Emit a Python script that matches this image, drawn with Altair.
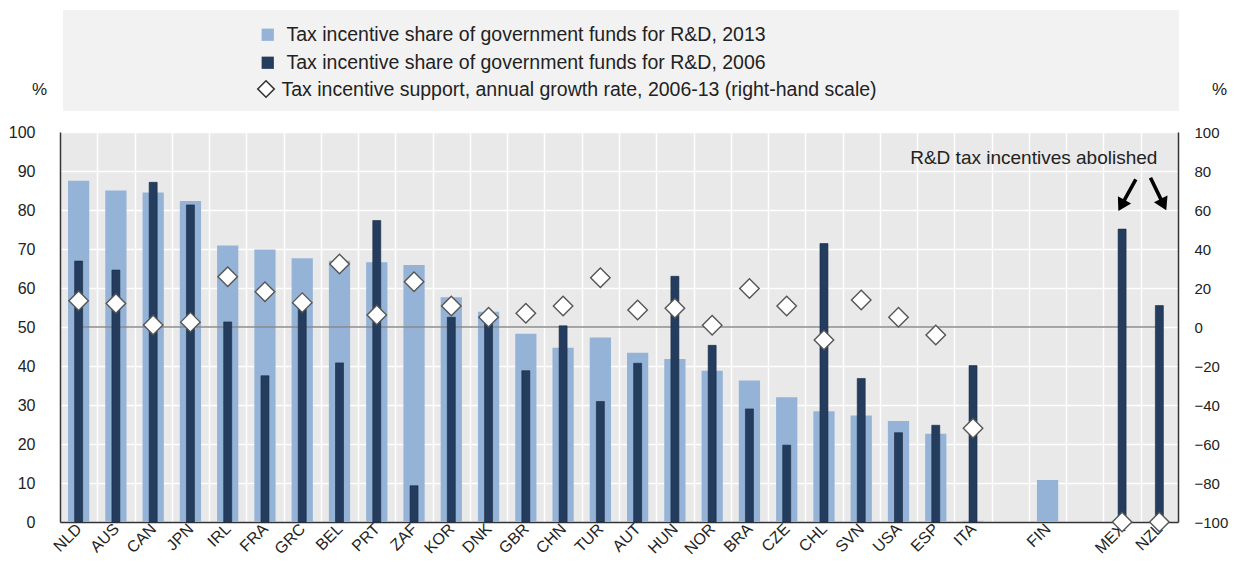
import altair as alt
import pandas as pd

countries = ["NLD", "AUS", "CAN", "JPN", "IRL", "FRA", "GRC", "BEL", "PRT", "ZAF",
             "KOR", "DNK", "GBR", "CHN", "TUR", "AUT", "HUN", "NOR", "BRA", "CZE",
             "CHL", "SVN", "USA", "ESP", "ITA", "FIN", "MEX", "NZL"]
share_2013 = [87.5, 85.0, 84.5, 82.3, 70.9, 69.9, 67.6, 67.0, 66.6, 65.9,
              57.6, 53.9, 48.3, 44.7, 47.3, 43.4, 41.8, 38.8, 36.3, 32.0,
              28.4, 27.3, 25.9, 22.6, 0.3, 10.8, None, None]
share_2006 = [66.9, 64.6, 87.1, 81.3, 51.3, 37.5, 55.0, 40.8, 77.3, 9.3,
              52.5, 53.0, 38.8, 50.3, 30.9, 40.7, 63.0, 45.3, 29.0, 19.7,
              71.4, 36.8, 22.9, 24.8, 40.1, None, 75.1, 55.5]
growth = [13.5, 12.0, 1.0, 2.5, 25.8, 18.1, 12.5, 32.3, 6.2, 23.2,
          10.8, 5.0, 7.0, 10.8, 25.3, 8.7, 9.6, 0.9, 19.8, 10.8,
          -6.7, 13.8, 5.0, -4.1, -51.9, None, -100.0, -100.0]
x_domain = countries[:25] + [" "] + ["FIN"] + ["  "] + ["MEX", "NZL"]
left_ticks = list(range(0, 101, 10))
right_ticks = list(range(-100, 101, 20))

LAB13 = "Tax incentive share of government funds for R&D, 2013"
LAB06 = "Tax incentive share of government funds for R&D, 2006"
LABG = "Tax incentive support, annual growth rate, 2006-13 (right-hand scale)"
NOTE = "R&D tax incentives abolished"

LIGHT = "#95b3d7"
DARK = "#243d5f"
FONT = "Liberation Sans"
TXT = "#222222"

df = pd.DataFrame({"country": countries, "s2013": share_2013,
                   "s2006": share_2006, "growth": growth})
df["ser13"] = LAB13
df["ser06"] = LAB06
df["serg"] = LABG
zero_df = pd.DataFrame({"country": ["NLD", "NZL"], "v": [0, 0]})
note_df = pd.DataFrame({"country": ["NZL"], "v": [93.3], "t": [NOTE]})
arrow_mex = pd.DataFrame({"country": ["MEX"], "v": [83.8]})
arrow_nzl = pd.DataFrame({"country": ["NZL"], "v": [84.1]})
one_df = pd.DataFrame({"a": [1]})

xscale = alt.Scale(domain=x_domain, paddingInner=0, paddingOuter=0)
x_enc = alt.X("country:N", scale=xscale, title=None,
              axis=alt.Axis(labelAngle=315, labelFontSize=16, labelFont=FONT,
                            labelColor=TXT, ticks=False, grid=True,
                            gridColor="white", gridWidth=1.5, tickBand="extent",
                            labelBaseline="middle", labelAlign="right",
                            labelPadding=4, domainColor="#333333", domainWidth=1.5))
left_scale = alt.Scale(domain=[0, 100], nice=False, zero=False)
right_scale = alt.Scale(domain=[-100, 100], nice=False, zero=False)

color_scale = alt.Scale(domain=[LAB13, LAB06], range=[LIGHT, DARK])
color_legend = alt.Legend(orient="none", legendX=198, legendY=-107, title=None,
                          symbolType="square", symbolSize=150, labelFontSize=19.5,
                          labelFont=FONT, labelColor=TXT, rowPadding=7,
                          labelOffset=9, symbolStrokeWidth=0, labelLimit=900)

box = alt.Chart(one_df).mark_rect(color="#f2f2f2").encode(
    x=alt.value(3), x2=alt.value(1119), y=alt.value(-122), y2=alt.value(-21))

light = alt.Chart(df).mark_bar(width={"band": 0.57}).encode(
    x=x_enc,
    y=alt.Y("s2013:Q", scale=left_scale, title="%",
            axis=alt.Axis(orient="left", values=left_ticks, grid=True,
                          gridColor="white", gridWidth=1.5, ticks=False,
                          labelFontSize=16, labelFont=FONT, labelColor=TXT,
                          labelPadding=25, domainColor="#333333", domainWidth=1.5,
                          titleAngle=0, titleX=-21, titleY=-34, titleFontSize=17,
                          titleFont=FONT, titleFontWeight="normal", titleColor=TXT,
                          titleAlign="center")),
    color=alt.Color("ser13:N", scale=color_scale, legend=color_legend))

zero_line = alt.Chart(zero_df).mark_line(color="#8a8a8a", strokeWidth=1.5).encode(
    x=x_enc, y=alt.Y("v:Q", scale=right_scale, axis=None))

dark = alt.Chart(df).mark_bar(width=8, stroke="#16283f", strokeWidth=0.6).encode(
    x=x_enc,
    y=alt.Y("s2006:Q", scale=left_scale, axis=None),
    color=alt.Color("ser06:N", scale=color_scale, legend=color_legend))

diamonds = alt.Chart(df).mark_point(filled=False, fill="white", fillOpacity=1,
                                    stroke="#555555", strokeWidth=1.4, opacity=1,
                                    size=380).encode(
    x=x_enc,
    y=alt.Y("growth:Q", scale=right_scale, title="%",
            axis=alt.Axis(orient="right", values=right_ticks, grid=False,
                          ticks=False, labelFontSize=15, labelFont=FONT,
                          labelColor=TXT, labelPadding=16, domainColor="#333333",
                          domainWidth=1.5, titleAngle=0, titleX=41, titleY=-34,
                          titleFontSize=17, titleFont=FONT,
                          titleFontWeight="normal", titleColor=TXT,
                          titleAlign="center")),
    shape=alt.Shape("serg:N", scale=alt.Scale(domain=[LABG], range=["diamond"]),
                    legend=alt.Legend(orient="none", legendX=196, legendY=-52,
                                      title=None, symbolSize=220, labelFontSize=19.5,
                                      labelFont=FONT, labelColor=TXT,
                                      labelOffset=6, symbolOpacity=0,
                                      labelLimit=900)))

# outlined legend symbol drawn on top of the (transparent) legend symbol
legend_diamond = alt.Chart(one_df).mark_point(
    shape="diamond", filled=False, fill="white", fillOpacity=1, stroke="#333333",
    strokeWidth=1.6, opacity=1, size=270).encode(
    x=alt.value(206), y=alt.value(-43))

note = alt.Chart(note_df).mark_text(align="right", baseline="middle", fontSize=19,
                                    font=FONT, color=TXT, xOffset=-2).encode(
    x=x_enc, y=alt.Y("v:Q", scale=left_scale, axis=None), text="t:N")

ARROW = "M-0.1,-1L0.1,-1L0.1,0.3L0.42,0.3L0,1L-0.42,0.3L-0.1,0.3Z"
arr1 = alt.Chart(arrow_mex).mark_point(shape=ARROW, filled=True, color="black",
                                       opacity=1, size=1296, angle=29,
                                       xOffset=5).encode(
    x=x_enc, y=alt.Y("v:Q", scale=left_scale, axis=None))
arr2 = alt.Chart(arrow_nzl).mark_point(shape=ARROW, filled=True, color="black",
                                       opacity=1, size=1296, angle=334,
                                       xOffset=-1).encode(
    x=x_enc, y=alt.Y("v:Q", scale=left_scale, axis=None))

chart = alt.layer(box, light, zero_line, dark, diamonds, legend_diamond, note,
                  arr1, arr2).resolve_scale(
    y="independent"
).properties(
    width=1118, height=390,
    autosize=alt.AutoSizeParams(type="none"),
    padding={"left": 52, "top": 124, "right": 51, "bottom": 37},
).configure_view(stroke=None, fill="#e9e9e9")

chart.save("out.html", embed_options={"renderer": "svg", "actions": False})
